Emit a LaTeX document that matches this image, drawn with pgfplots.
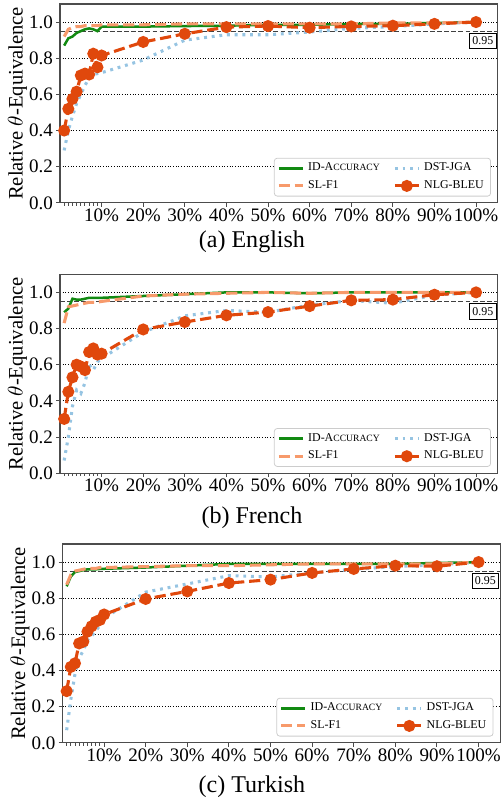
\documentclass[border=0pt]{standalone}
\usepackage{fontspec}
\setmainfont{Liberation Serif}
\usepackage{pgfplots}
\usepackage{pgfplotstable}
\pgfplotsset{compat=1.18}

\definecolor{cID}{HTML}{128A12}
\definecolor{cSL}{HTML}{F79A6B}
\definecolor{cDST}{HTML}{96C4E2}
\definecolor{cNLG}{HTML}{E0480C}

% English
\pgfplotstableread{
x id dst sl nlg
1 0.87 0.29 0.92 0.40
2 0.91 0.40 0.96 0.52
3 0.92 0.48 0.97 0.575
4 0.94 0.55 0.975 0.615
5 0.95 0.60 0.975 0.705
6 0.96 0.65 0.98 0.715
7 0.965 0.69 0.98 0.71
8 0.96 0.71 0.98 0.825
9 0.95 0.715 0.98 0.75
10 0.975 0.72 0.985 0.815
20 0.975 0.79 0.985 0.89
30 0.978 0.90 0.99 0.935
40 0.98 0.93 0.99 0.972
50 0.985 0.93 0.99 0.978
60 0.985 0.945 0.99 0.969
70 0.99 0.965 0.99 0.976
80 0.99 0.975 0.995 0.98
90 0.995 0.99 0.995 0.99
100 1.0 1.0 1.0 1.0
}\english

% French
\pgfplotstableread{
x id dst sl nlg
1 0.89 0.07 0.83 0.30
2 0.91 0.20 0.92 0.45
3 0.965 0.37 0.925 0.53
4 0.96 0.46 0.93 0.60
5 0.96 0.44 0.935 0.59
6 0.965 0.50 0.94 0.57
7 0.97 0.60 0.945 0.67
8 0.97 0.57 0.945 0.69
9 0.97 0.615 0.946 0.656
10 0.97 0.635 0.95 0.661
20 0.98 0.78 0.98 0.795
30 0.99 0.87 0.99 0.836
40 1.0 0.90 0.995 0.873
50 1.0 0.89 1.0 0.891
60 0.995 0.93 0.995 0.924
70 1.0 0.955 1.0 0.956
80 1.0 0.94 1.0 0.96
90 1.0 0.985 1.0 0.987
100 1.0 1.0 1.0 1.0
}\french

% Turkish
\pgfplotstableread{
x id dst sl nlg
1 0.866 0.07 0.875 0.286
2 0.92 0.24 0.93 0.42
3 0.945 0.38 0.95 0.44
4 0.95 0.47 0.955 0.55
5 0.955 0.51 0.96 0.56
6 0.96 0.57 0.965 0.615
7 0.96 0.59 0.965 0.645
8 0.96 0.62 0.965 0.67
9 0.962 0.65 0.97 0.68
10 0.963 0.69 0.97 0.71
20 0.97 0.834 0.975 0.796
30 0.98 0.879 0.98 0.838
40 0.99 0.925 0.98 0.884
50 0.99 0.918 0.985 0.903
60 0.99 0.94 0.99 0.94
70 0.99 0.96 0.99 0.962
80 0.99 0.975 0.99 0.98
90 0.995 0.985 0.99 0.977
100 1.0 1.0 1.0 1.0
}\turkish

\pgfplotsset{
  panel/.style={
    scale only axis, width=227.6pt, height=103.4pt,
    xmin=0, xmax=105.2, ymin=0, ymax=1.1,
    xtick={10,20,30,40,50,60,70,80,90,100},
    xticklabels={10\%,20\%,30\%,40\%,50\%,60\%,70\%,80\%,90\%,100\%},
    minor xtick={1,2,3,4,5,6,7,8,9},
    ytick={0,0.2,0.4,0.6,0.8,1.0},
    ticklabel style={font=\fontsize{9.9}{11}\selectfont},
    xticklabel style={inner ysep=1pt},
    yticklabel style={inner xsep=1.5pt,
      /pgf/number format/fixed, /pgf/number format/fixed zerofill,
      /pgf/number format/precision=1, /pgf/number format/assume math mode=true},
    tick align=outside, tick pos=left,
    major tick length=2pt, minor tick length=1.6pt,
    axis line style={black!70, line width=0.6pt},
    every tick/.style={black!70, line width=0.5pt},
    ymajorgrids, major grid style={black, densely dotted, line width=0.5pt},
    ylabel={Relative $\theta$-Equivalence},
    every axis y label/.style={at={(rel axis cs:-0.097,0.5)}, anchor=center, rotate=90, font=\fontsize{10.7}{12}\selectfont},
    legend columns=2,
    legend cell align=left,
    legend style={at={(1,0)}, anchor=south east, xshift=-3.5pt, yshift=3.3pt,
      font=\fontsize{6.2}{7}\selectfont, draw=black!20, rounded corners=1.5pt,
      inner xsep=1.5pt, inner ysep=0.5pt, row sep=-0.5pt,
      /tikz/every even column/.append style={column sep=5pt}},
    legend image code/.code={\draw[mark repeat=2,mark phase=2,#1] plot coordinates {(0pt,0pt) (6.25pt,0pt) (12.5pt,0pt)};},
  },
  idS/.style={color=cID, line width=1.3pt, solid, no markers},
  dstS/.style={color=cDST, line width=1.6pt, dash pattern=on 1.5pt off 2.5pt, no markers},
  slS/.style={color=cSL, line width=1.6pt, dash pattern=on 5.8pt off 2.5pt, no markers},
  nlgS/.style={color=cNLG, line width=1.6pt, dash pattern=on 5.8pt off 2.5pt, mark=*, mark size=2.3pt, mark options={solid}},
  refS/.style={forget plot, black!75, line width=0.6pt, dash pattern=on 2.5pt off 1.2pt},
}

\newcommand{\idlabel}{ID-A{\fontsize{5}{6}\selectfont CCURACY}}

\begin{document}
\begin{tikzpicture}
\useasboundingbox (0,0) rectangle (260pt,-417.56pt);

% (a) English
\begin{axis}[panel, at={(31.2pt,-2.08pt)}, anchor=north west]
\addplot[refS] coordinates {(0,0.95) (105.2,0.95)};
\addplot[idS] table[x=x,y=id] {\english};
\addlegendentry{\idlabel}
\addplot[dstS] table[x=x,y=dst] {\english};
\addlegendentry{DST-JGA}
\addplot[slS] table[x=x,y=sl] {\english};
\addlegendentry{SL-F1}
\addplot[nlgS] table[x=x,y=nlg] {\english};
\addlegendentry{NLG-BLEU}
\node[draw=black, line width=0.5pt, fill=white, font=\fontsize{6.2}{7}\selectfont, inner xsep=1.5pt, inner ysep=2pt, anchor=north east] at (axis cs:104.95,0.942) {0.95};
\end{axis}
\node[font=\fontsize{12.5}{14}\selectfont] at (131pt,-125.8pt) {(a) English};

% (b) French
\begin{axis}[panel, at={(31.2pt,-142.64pt)}, anchor=north west]
\addplot[refS] coordinates {(0,0.95) (105.2,0.95)};
\addplot[idS] table[x=x,y=id] {\french};
\addlegendentry{\idlabel}
\addplot[dstS] table[x=x,y=dst] {\french};
\addlegendentry{DST-JGA}
\addplot[slS] table[x=x,y=sl] {\french};
\addlegendentry{SL-F1}
\addplot[nlgS] table[x=x,y=nlg] {\french};
\addlegendentry{NLG-BLEU}
\node[draw=black, line width=0.5pt, fill=white, font=\fontsize{6.2}{7}\selectfont, inner xsep=1.5pt, inner ysep=2pt, anchor=north east] at (axis cs:104.95,0.942) {0.95};
\end{axis}
\node[font=\fontsize{12.5}{14}\selectfont] at (131pt,-269.4pt) {(b) French};

% (c) Turkish
\begin{axis}[panel, at={(32.5pt,-282.88pt)}, anchor=north west]
\addplot[refS] coordinates {(0,0.95) (105.2,0.95)};
\addplot[idS] table[x=x,y=id] {\turkish};
\addlegendentry{\idlabel}
\addplot[dstS] table[x=x,y=dst] {\turkish};
\addlegendentry{DST-JGA}
\addplot[slS] table[x=x,y=sl] {\turkish};
\addlegendentry{SL-F1}
\addplot[nlgS] table[x=x,y=nlg] {\turkish};
\addlegendentry{NLG-BLEU}
\node[draw=black, line width=0.5pt, fill=white, font=\fontsize{6.2}{7}\selectfont, inner xsep=1.5pt, inner ysep=2pt, anchor=north east] at (axis cs:104.95,0.942) {0.95};
\end{axis}
\node[font=\fontsize{12.5}{14}\selectfont] at (131pt,-409.2pt) {(c) Turkish};
\end{tikzpicture}
\end{document}
